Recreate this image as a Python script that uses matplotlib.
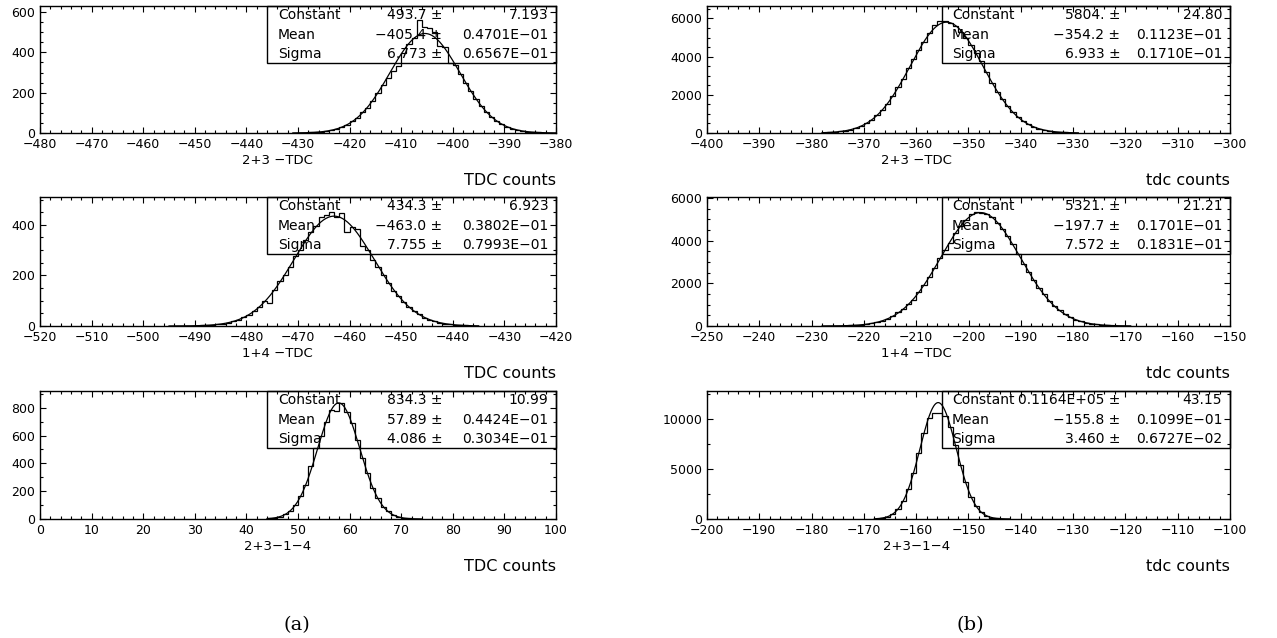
import numpy as np
import matplotlib.pyplot as plt
from matplotlib.patches import Rectangle
from matplotlib.ticker import MultipleLocator

plt.rcParams['font.family'] = 'DejaVu Sans'

# -----------------------------
# Data (bin width = 1 TDC count, lower edge of first bin given)
# -----------------------------
p1_start = -431
p1_counts = [1, 1, 2, 3, 4, 6, 9, 14, 19, 28, 40, 58, 74, 102, 125, 158, 196,
             238, 275, 310, 330, 395, 440, 470, 560, 525, 520, 500, 430, 425,
             345, 335, 294, 250, 210, 168, 136, 104, 80, 60, 44, 31, 22, 16,
             11, 7, 5, 3, 2, 2, 1]
p1_fit = [493.7, -405.4, 6.773]
p1_stats = ["493.7 \u00b1", "\u2212405.4 \u00b1", "6.773 \u00b1"]
p1_errs = ["7.193", "0.4701E\u221201", "0.6567E\u221201"]

p2_start = -378
p2_counts = [20, 33, 52, 80, 120, 178, 258, 366, 530, 692, 922, 1203, 1500,
             1925, 2420, 2834, 3400, 3900, 4334, 4789, 5250, 5650, 5850, 5870,
             5760, 5580, 5300, 5000, 4613, 4180, 3750, 3180, 2641, 2150, 1764,
             1397, 1083, 824, 613, 447, 319, 223, 153, 102, 67, 43, 27, 17, 10]
p2_fit = [5804.0, -354.2, 6.933]
p2_stats = ["5804. \u00b1", "\u2212354.2 \u00b1", "6.933 \u00b1"]
p2_errs = ["24.80", "0.1123E\u221201", "0.1710E\u221201"]

p3_start = -495
p3_counts = [0, 0, 1, 1, 1, 1, 2, 3, 4, 7, 9, 13, 19, 24, 35, 44, 60, 75, 100,
             92, 142, 176, 203, 235, 275, 300, 340, 372, 395, 430, 440, 452,
             430, 445, 372, 390, 385, 318, 302, 262, 232, 200, 170, 140, 120,
             96, 75, 58, 46, 33, 25, 19, 13, 9, 7, 4, 3, 2, 1, 1]
p3_fit = [434.3, -463.0, 7.755]
p3_stats = ["434.3 \u00b1", "\u2212463.0 \u00b1", "7.755 \u00b1"]
p3_errs = ["6.923", "0.3802E\u221201", "0.7993E\u221201"]

p4_start = -228
p4_counts = [2, 4, 6, 10, 16, 25, 38, 57, 84, 122, 174, 244, 336, 454, 640,
             788, 1010, 1240, 1581, 1925, 2303, 2709, 3180, 3555, 3900, 4352,
             4692, 4969, 5240, 5350, 5300, 5254, 5101, 4820, 4561, 4203, 3850,
             3385, 2920, 2543, 2148, 1782, 1480, 1165, 917, 730, 540, 403, 296,
             214, 151, 106, 72, 49, 32, 21, 13, 8, 5]
p4_fit = [5321.0, -197.7, 7.572]
p4_stats = ["5321. \u00b1", "\u2212197.7 \u00b1", "7.572 \u00b1"]
p4_errs = ["21.21", "0.1701E\u221201", "0.1831E\u221201"]

p5_start = 44
p5_counts = [4, 8, 17, 33, 59, 101, 163, 246, 380, 510, 600, 700, 780, 775,
             835, 770, 690, 570, 440, 330, 220, 150, 88, 54, 28, 15, 7, 4, 2, 1]
p5_fit = [834.3, 57.89, 4.086]
p5_stats = ["834.3 \u00b1", "57.89 \u00b1", "4.086 \u00b1"]
p5_errs = ["10.99", "0.4424E\u221201", "0.3034E\u221201"]

p6_start = -168
p6_counts = [38, 98, 228, 494, 979, 1784, 2997, 4629, 6572, 8588, 10100,
             10600, 10600, 10300, 9200, 7450, 5450, 3700, 2250, 1280, 660, 320,
             140, 56, 22, 8]
p6_fit = [11640.0, -155.8, 3.460]
p6_stats = ["0.1164E+05 \u00b1", "\u2212155.8 \u00b1", "3.460 \u00b1"]
p6_errs = ["43.15", "0.1099E\u221201", "0.6727E\u221202"]

stat_names = ["Constant", "Mean", "Sigma"]
titles = ["2+3 \u2212TDC", "1+4 \u2212TDC", "2+3\u22121\u22124"]

# -----------------------------
# Layout / axis settings
# -----------------------------
W, H = 1277, 638
left_x = (40, 516)
right_x = (707, 523)
rows = [(6, 133), (197, 326), (391, 519)]

panels = [
    # start, counts, fit, stats, errs, xlim, ylim, ymaj, ymin, col, row, unit
    (p1_start, p1_counts, p1_fit, p1_stats, p1_errs, (-480, -380), 630, 200, 50, 0, 0, "TDC counts"),
    (p2_start, p2_counts, p2_fit, p2_stats, p2_errs, (-400, -300), 6650, 2000, 500, 1, 0, "tdc counts"),
    (p3_start, p3_counts, p3_fit, p3_stats, p3_errs, (-520, -420), 510, 200, 50, 0, 1, "TDC counts"),
    (p4_start, p4_counts, p4_fit, p4_stats, p4_errs, (-250, -150), 6050, 2000, 500, 1, 1, "tdc counts"),
    (p5_start, p5_counts, p5_fit, p5_stats, p5_errs, (0, 100), 920, 200, 100, 0, 2, "TDC counts"),
    (p6_start, p6_counts, p6_fit, p6_stats, p6_errs, (-200, -100), 12800, 5000, 2500, 1, 2, "tdc counts"),
]

fig = plt.figure(figsize=(W / 100, H / 100), dpi=100)

for start, counts, fit, stats, errs, xlim, ymax, ymaj, ymin, col, row, unit in panels:
    x0, w = left_x if col == 0 else right_x
    top, bot = rows[row]
    ax = fig.add_axes([x0 / W, 1 - bot / H, w / W, (bot - top) / H])

    counts = np.asarray(counts, dtype=float)
    edges = start + np.arange(len(counts) + 1)
    ax.stairs(counts, edges, color="black", lw=0.9)

    # gaussian fit curve from the fitted parameters
    xs = np.linspace(edges[0], edges[-1], 400)
    const, mean, sigma = fit
    ax.plot(xs, const * np.exp(-0.5 * ((xs - mean) / sigma) ** 2), color="black", lw=0.9)

    ax.set_xlim(*xlim)
    ax.set_ylim(0, ymax)
    ax.xaxis.set_major_locator(MultipleLocator(10))
    ax.xaxis.set_minor_locator(MultipleLocator(2))
    ax.yaxis.set_major_locator(MultipleLocator(ymaj))
    ax.yaxis.set_minor_locator(MultipleLocator(ymin))
    ax.tick_params(which="both", direction="in", top=True, right=True, width=0.8, labelsize=9)
    ax.tick_params(which="major", length=4.5)
    ax.tick_params(which="minor", length=2.2)
    for sp in ax.spines.values():
        sp.set_linewidth(1.0)

    # statistics box
    bx = 0.44 if col == 0 else 0.45
    ax.add_patch(Rectangle((bx, 0.555), 1 - bx, 0.445, transform=ax.transAxes,
                           fill=False, lw=1.0, color="black", clip_on=False))
    lx = 0.461 if col == 0 else 0.468
    vx = 0.78 if col == 0 else 0.79
    for name, val, err, ty in zip(stat_names, stats, errs, [0.93, 0.775, 0.625]):
        ax.text(lx, ty, name, transform=ax.transAxes, fontsize=10, va="center")
        ax.text(vx, ty, val, transform=ax.transAxes, fontsize=10, va="center", ha="right")
        ax.text(0.985, ty, err, transform=ax.transAxes, fontsize=10, va="center", ha="right")

    tx = 0.46 if col == 0 else 0.40
    ax.annotate(titles[row], xy=(tx, 0), xycoords="axes fraction", xytext=(0, -19.5),
                textcoords="offset points", ha="center", va="center", fontsize=9.5)
    ax.annotate(unit, xy=(1, 0), xycoords="axes fraction", xytext=(0, -34.5),
                textcoords="offset points", ha="right", va="center", fontsize=11.5)

fig.text(297 / W, 1 - 625 / H, "(a)", ha="center", va="center", fontsize=14, family="DejaVu Serif")
fig.text(970 / W, 1 - 625 / H, "(b)", ha="center", va="center", fontsize=14, family="DejaVu Serif")

fig.savefig("out.png", dpi=100)
